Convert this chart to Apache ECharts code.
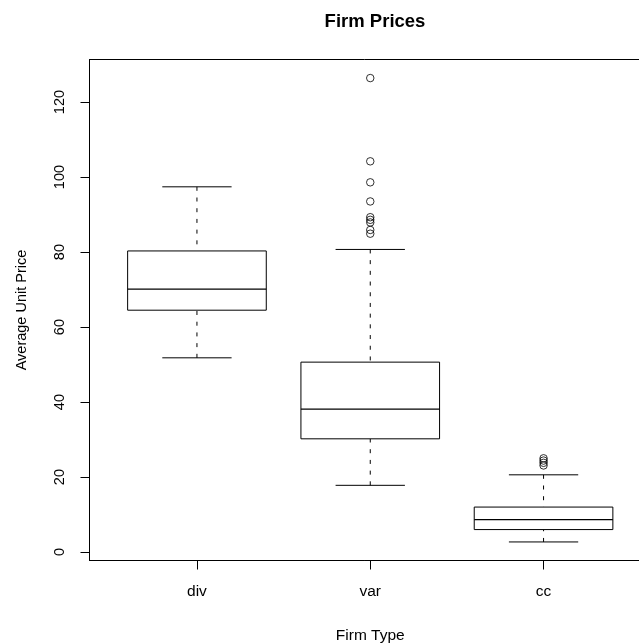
<!DOCTYPE html>
<html>
<head>
<meta charset="utf-8">
<style>
  html, body { margin: 0; padding: 0; background: #fff; }
  #chart { width: 639px; height: 643px; }
</style>
<script src="https://cdn.jsdelivr.net/npm/echarts@6/dist/echarts.min.js"></script>
</head>
<body>
<div id="chart"></div>
<script>
// Firm types and their five-number summaries (average unit price)
const categories = ['div', 'var', 'cc'];
const whiskerLow = [51.8, 17.8, 2.7];
const lowerQuartile = [64.5, 30.2, 6.0];
const medians = [70.1, 38.1, 8.65];
const upperQuartile = [80.3, 50.65, 12.0];
const whiskerHigh = [97.4, 80.7, 20.6];

// Points beyond the whiskers
const outliersVar = [126.4, 104.2, 98.6, 93.5, 89.3, 88.6, 87.9, 85.9, 84.9];
const outliersCc = [25.0, 24.4, 23.8, 23.1];

const yTicks = [0, 20, 40, 60, 80, 100, 120];
const xTicks = [1, 2, 3];

const FONT = '"Liberation Sans", Arial, Helvetica, sans-serif';

const boxData = categories.map((c, i) => [
  i + 1, whiskerLow[i], lowerQuartile[i], medians[i], upperQuartile[i], whiskerHigh[i]
]);
const outlierData = []
  .concat(outliersVar.map(v => [2, v]))
  .concat(outliersCc.map(v => [3, v]));

function renderBox(params, api) {
  const x = api.value(0);
  const lo = api.coord([x, api.value(1)]);
  const q1 = api.coord([x, api.value(2)]);
  const med = api.coord([x, api.value(3)]);
  const q3 = api.coord([x, api.value(4)]);
  const hi = api.coord([x, api.value(5)]);
  const halfBox = api.size([0.4, 0])[0];
  const halfCap = api.size([0.2, 0])[0];
  const cx = med[0];
  const solid = { stroke: '#000', lineWidth: 1, fill: null };
  const dashed = { stroke: '#000', lineWidth: 1, lineDash: [4, 6.7], fill: null };
  return {
    type: 'group',
    children: [
      { type: 'line', shape: { x1: cx, y1: hi[1], x2: cx, y2: q3[1] }, style: dashed },
      { type: 'line', shape: { x1: cx, y1: lo[1], x2: cx, y2: q1[1] }, style: dashed },
      { type: 'line', shape: { x1: cx - halfCap, y1: hi[1], x2: cx + halfCap, y2: hi[1] }, style: solid },
      { type: 'line', shape: { x1: cx - halfCap, y1: lo[1], x2: cx + halfCap, y2: lo[1] }, style: solid },
      { type: 'rect', shape: { x: cx - halfBox, y: q3[1], width: 2 * halfBox, height: q1[1] - q3[1] },
        style: { stroke: '#000', lineWidth: 1, fill: '#fff' } },
      { type: 'line', shape: { x1: cx - halfBox, y1: med[1], x2: cx + halfBox, y2: med[1] },
        style: { stroke: '#000', lineWidth: 1.2 } }
    ]
  };
}

const chart = echarts.init(document.getElementById('chart'), null, { renderer: 'canvas' });
chart.setOption({
  animation: false,
  backgroundColor: '#fff',
  title: {
    text: 'Firm Prices',
    left: 370,
    top: 7,
    textAlign: 'center',
    textStyle: { fontFamily: FONT, fontSize: 18.5, fontWeight: 'bold', color: '#000' }
  },
  grid: {
    left: 89.5,
    top: 59.5,
    width: 561.5,
    height: 501,
    show: true,
    borderColor: '#000',
    borderWidth: 1,
    backgroundColor: 'transparent',
    outerBoundsMode: 'none'
  },
  xAxis: {
    type: 'value',
    min: 0.38,
    max: 3.62,
    name: 'Firm Type',
    nameLocation: 'middle',
    nameGap: 67,
    nameTextStyle: { fontFamily: FONT, fontSize: 15.5, color: '#000' },
    splitLine: { show: false },
    axisLine: { show: true, onZero: false, lineStyle: { color: '#000', width: 1 } },
    axisTick: { show: true, length: 9, customValues: xTicks, lineStyle: { color: '#000' } },
    axisLabel: {
      customValues: xTicks,
      margin: 23,
      fontFamily: FONT, fontSize: 15.5, color: '#000',
      formatter: v => categories[Math.round(v) - 1]
    }
  },
  yAxis: {
    type: 'value',
    min: -2.25,
    max: 131.35,
    name: 'Average Unit Price',
    nameLocation: 'middle',
    nameGap: 60,
    nameTextStyle: { fontFamily: FONT, fontSize: 14.5, color: '#000' },
    splitLine: { show: false },
    axisLine: { show: true, onZero: false, lineStyle: { color: '#000', width: 1 } },
    axisTick: { show: true, length: 9, customValues: yTicks, lineStyle: { color: '#000' } },
    axisLabel: {
      customValues: yTicks,
      rotate: 90,
      margin: 22,
      fontFamily: FONT, fontSize: 14.5, color: '#000'
    }
  },
  series: [
    {
      type: 'custom',
      renderItem: renderBox,
      data: boxData,
      encode: { x: 0, y: [1, 2, 3, 4, 5] },
      clip: true,
      z: 2
    },
    {
      type: 'scatter',
      data: outlierData,
      symbol: 'circle',
      symbolSize: 7.5,
      itemStyle: { color: 'rgba(0,0,0,0)', borderColor: '#000', borderWidth: 1 },
      z: 3
    }
  ]
});
</script>
</body>
</html>
